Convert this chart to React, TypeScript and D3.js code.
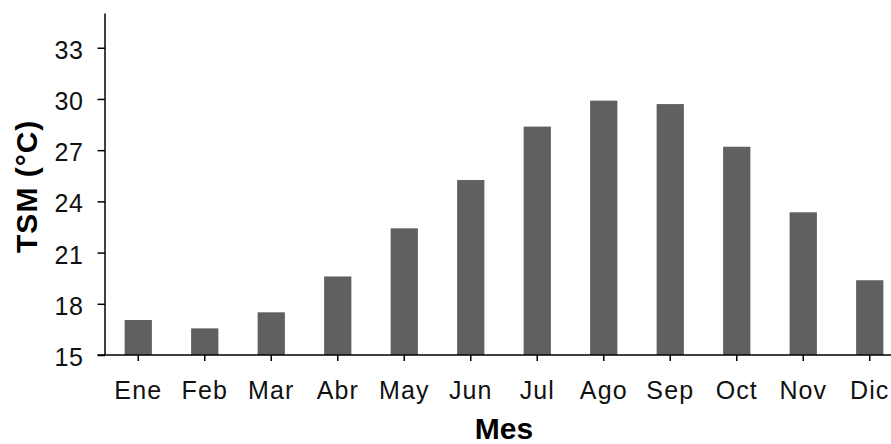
import React, { useEffect, useRef } from "react";
import * as d3 from "d3";

const months = ["Ene", "Feb", "Mar", "Abr", "May", "Jun", "Jul", "Ago", "Sep", "Oct", "Nov", "Dic"];
const tsm = [17.05, 16.56, 17.5, 19.6, 22.42, 25.25, 28.38, 29.9, 29.7, 27.2, 23.36, 19.38];
const yTicks = [15, 18, 21, 24, 27, 30, 33];
const yDomain = [15, 35];
const xTitle = "Mes";
const yTitle = "TSM (°C)";

const W = 891;
const H = 444;
const FONT = "'Liberation Sans', Arial, Helvetica, sans-serif";

export default function App() {
  const ref = useRef<SVGSVGElement | null>(null);

  useEffect(() => {
    const svg = d3.select(ref.current);
    svg.selectAll("*").remove();

    const left = 105;
    const right = 903;
    const top = 13.6;
    const bottom = 355;

    const x = d3.scaleBand<string>().domain(months).range([left, right]).paddingInner(0.59).paddingOuter(0.295);
    const y = d3.scaleLinear().domain(yDomain).range([bottom, top]);

    svg.append("rect").attr("width", W).attr("height", H).attr("fill", "#fff");

    // bars
    svg
      .append("g")
      .selectAll("rect")
      .data(tsm)
      .join("rect")
      .attr("x", (_d, i) => x(months[i])!)
      .attr("y", (d) => y(d))
      .attr("width", x.bandwidth())
      .attr("height", (d) => bottom - y(d))
      .attr("fill", "#606060");

    // y axis
    const yAxis = d3
      .axisLeft(y)
      .tickValues(yTicks)
      .tickSize(7.5)
      .tickSizeOuter(0)
      .tickPadding(14)
      .tickFormat((d) => String(d));
    const gy = svg.append("g").attr("transform", `translate(${left},0)`).call(yAxis);
    gy.select(".domain").remove();
    gy.selectAll("line").attr("stroke", "#000").attr("stroke-width", 1.5);
    gy.selectAll("text")
      .attr("font-family", FONT)
      .attr("font-size", 25)
      .attr("letter-spacing", 0.6)
      .attr("fill", "#111")
      .attr("dy", "0.42em");

    // x axis
    const xAxis = d3.axisBottom(x).tickSize(6).tickSizeOuter(0).tickPadding(20);
    const gx = svg.append("g").attr("transform", `translate(0,${bottom})`).call(xAxis);
    gx.select(".domain").remove();
    gx.selectAll("line").attr("stroke", "#000").attr("stroke-width", 1.5);
    gx.selectAll("text")
      .attr("font-family", FONT)
      .attr("font-size", 25)
      .attr("letter-spacing", 1.1)
      .attr("fill", "#111");

    // axis lines
    svg
      .append("line")
      .attr("x1", left)
      .attr("x2", left)
      .attr("y1", top)
      .attr("y2", bottom)
      .attr("stroke", "#000")
      .attr("stroke-width", 1.5);
    svg
      .append("line")
      .attr("x1", left - 7.5)
      .attr("x2", right)
      .attr("y1", bottom)
      .attr("y2", bottom)
      .attr("stroke", "#000")
      .attr("stroke-width", 1.5);

    // titles
    svg
      .append("text")
      .attr("x", (left + right) / 2)
      .attr("y", 439)
      .attr("text-anchor", "middle")
      .attr("font-family", FONT)
      .attr("font-weight", "bold")
      .attr("font-size", 30)
      .attr("fill", "#000")
      .text(xTitle);

    svg
      .append("text")
      .attr("transform", `translate(37,${(top + bottom) / 2 + 2}) rotate(-90)`)
      .attr("text-anchor", "middle")
      .attr("font-family", FONT)
      .attr("font-weight", "bold")
      .attr("font-size", 30)
      .attr("letter-spacing", 1)
      .attr("fill", "#000")
      .text(yTitle);
  }, []);

  return (
    <svg
      ref={ref}
      width={W}
      height={H}
      style={{ position: "absolute", left: 0, top: 0, display: "block" }}
    />
  );
}
